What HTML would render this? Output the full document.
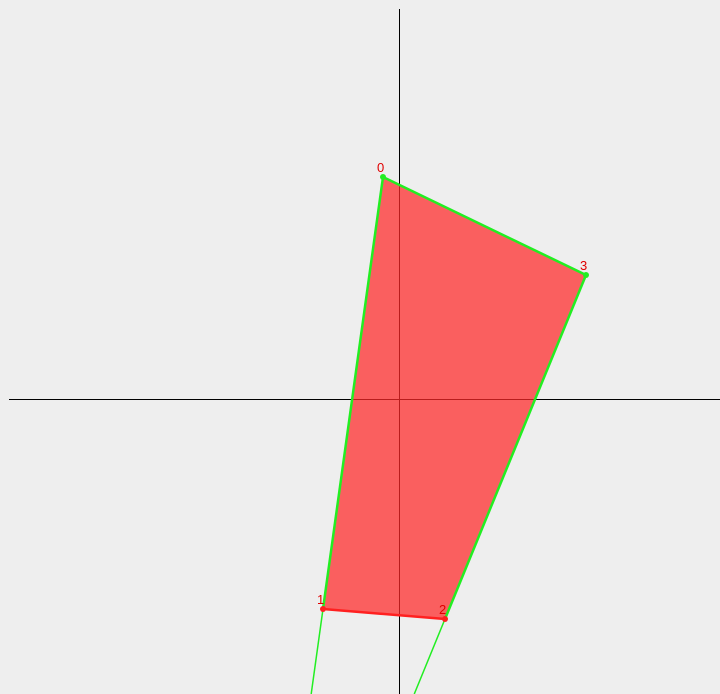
<!DOCTYPE html>
<html><head><meta charset="utf-8"><style>
html,body{margin:0;padding:0;background:#eeeeee;}
svg{display:block;}
text{font-family:"Liberation Sans",sans-serif;font-size:13px;fill:#e00000;}
</style></head><body>
<svg id="chart" width="720" height="694" xmlns="http://www.w3.org/2000/svg">
<line x1="399.5" y1="9" x2="399.5" y2="694" stroke="#000" stroke-width="1" shape-rendering="crispEdges"/>
<line x1="9" y1="399.5" x2="720" y2="399.5" stroke="#000" stroke-width="1" shape-rendering="crispEdges"/>
<g id="marks"></g>
</svg>
<script>
const pointLabels = ["0","1","2","3"];
const xValues = [-16, -76, 46, 187];
const yValues = [222, -210, -220, 124];
const ox = 399, oy = 399;
function sx(v){return ox+v;}
function sy(v){return oy-v;}
const NS="http://www.w3.org/2000/svg";
const g=document.getElementById('marks');
const P=xValues.map((x,i)=>[sx(x),sy(yValues[i])]);
const poly=document.createElementNS(NS,'polygon');


poly.setAttribute('points',P.map(p=>p.join(',')).join(' '));
poly.setAttribute('fill','rgba(255,40,40,0.72)');
g.appendChild(poly);
function ln(a,b,c,w,name){const l=document.createElementNS(NS,'line');


l.setAttribute('x1',a[0]);l.setAttribute('y1',a[1]);l.setAttribute('x2',b[0]);l.setAttribute('y2',b[1]);
l.setAttribute('stroke',c);l.setAttribute('stroke-width',w);g.appendChild(l);}
function ext(a,b){const t=(694-a[1])/(b[1]-a[1]);return [a[0]+t*(b[0]-a[0]),694];}
ln(P[1],ext(P[0],P[1]),'#22ee22',1.5,'ray-left');
ln(P[2],ext(P[3],P[2]),'#22ee22',1.5,'ray-right');
ln(P[0],P[1],'#22ee22',2.5,'edge-0-1');
ln(P[0],P[3],'#22ee22',2.5,'edge-0-3');
ln(P[3],P[2],'#22ee22',2.5,'edge-3-2');
ln(P[1],P[2],'#ff2020',2.5,'edge-1-2');
const vcol=['#22ee22','#ff2020','#ff2020','#22ee22'];
P.forEach((p,i)=>{
const c=document.createElementNS(NS,'circle');


c.setAttribute('cx',p[0]);c.setAttribute('cy',p[1]);c.setAttribute('r',3);c.setAttribute('fill',vcol[i]);
g.appendChild(c);
const t=document.createElementNS(NS,'text');


t.setAttribute('x',p[0]-6);t.setAttribute('y',p[1]-5);t.textContent=pointLabels[i];
g.appendChild(t);
});
</script>
</body></html>
